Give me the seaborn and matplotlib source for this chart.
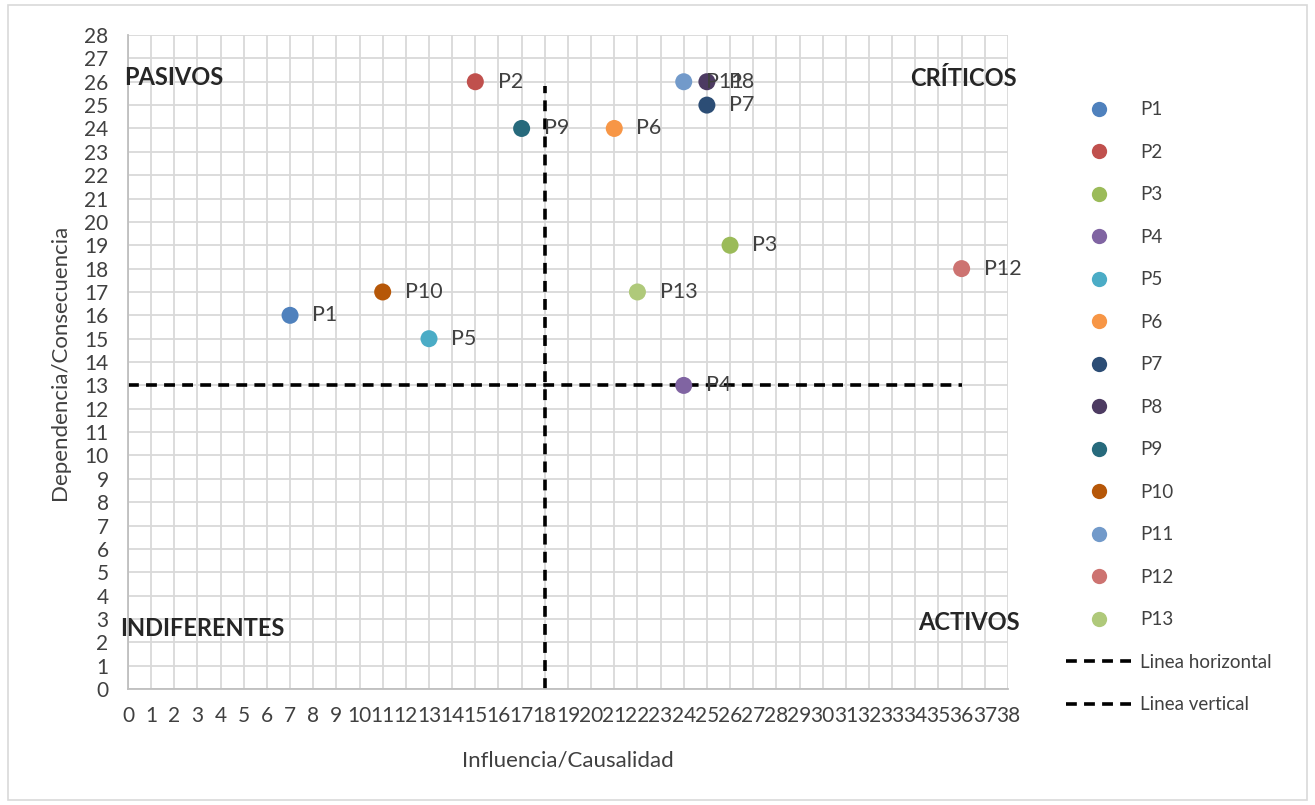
import matplotlib
matplotlib.use("Agg")
import matplotlib.pyplot as plt
import seaborn as sns
import pandas as pd
from matplotlib.lines import Line2D
from matplotlib.patches import Rectangle

# Datos de la matriz de influencia/dependencia
labels = ['P1', 'P2', 'P3', 'P4', 'P5', 'P6', 'P7', 'P8', 'P9', 'P10', 'P11', 'P12', 'P13']
influencia = [7, 15, 26, 24, 13, 21, 25, 25, 17, 11, 24, 36, 22]
dependencia = [16, 26, 19, 13, 15, 24, 25, 26, 24, 17, 26, 18, 17]
colores = ['#4F81BD', '#C0504D', '#9BBB59', '#8064A2', '#4BACC6', '#F79646', '#2C4D75',
           '#4D3B62', '#276A7C', '#B65708', '#729ACA', '#CD7371', '#AFC97A']

linea_h_x = [0, 36]
linea_h_y = [13, 13]
linea_v_x = [18, 18]
linea_v_y = [0, 25.8]

df = pd.DataFrame({'Punto': labels, 'Influencia': influencia, 'Dependencia': dependencia})

sns.set_style("white")
plt.rcParams['font.family'] = ['Lato', 'DejaVu Sans']
txt = '#404040'

fig = plt.figure(figsize=(13.15, 8.05), dpi=100)
ax = fig.add_axes([0.0973, 0.144, 0.6692, 0.8125])
fig.patches.append(Rectangle((0.006, 0.006), 0.988, 0.988, transform=fig.transFigure,
                             fill=False, edgecolor='#D9D9D9', linewidth=1.2))

# lineas divisorias
ax.plot(linea_h_x, linea_h_y, color='black', linestyle=(0, (3, 2)), linewidth=2.6, zorder=2)
ax.plot(linea_v_x, linea_v_y, color='black', linestyle=(0, (3, 2)), linewidth=2.6, zorder=2)

sns.scatterplot(data=df, x='Influencia', y='Dependencia', hue='Punto', palette=colores,
                s=150, edgecolor='none', legend=False, zorder=3, ax=ax)

for lab, x, y in zip(labels, influencia, dependencia):
    ax.annotate(lab, (x, y), xytext=(16, 0), textcoords='offset points', va='center',
                ha='left', fontsize=15.5, color=txt, zorder=4)

ax.set_xlim(0, 38)
ax.set_ylim(0, 28)
ax.set_xticks(range(0, 39))
ax.set_yticks(range(0, 29))
ax.tick_params(axis='both', length=0, labelsize=15, colors=txt)
ax.tick_params(axis='x', pad=12)
ax.tick_params(axis='y', pad=14)
ax.grid(True, color='#D9D9D9', linewidth=1.3)
ax.set_axisbelow(True)
for s in ['top', 'right']:
    ax.spines[s].set_visible(False)
for s in ['left', 'bottom']:
    ax.spines[s].set_color('#BFBFBF')
    ax.spines[s].set_linewidth(1.3)

ax.set_xlabel('Influencia/Causalidad', fontsize=16, color=txt, labelpad=18)
ax.set_ylabel('Dependencia/Consecuencia', fontsize=16, color=txt, labelpad=10)

# cuadrantes
ax.text(-0.15, 26.2, 'PASIVOS', fontsize=17, fontweight='bold', ha='left', va='center')
ax.text(38.4, 26.15, 'CRÍTICOS', fontsize=17, fontweight='bold', ha='right', va='center')
ax.text(-0.35, 2.6, 'INDIFERENTES', fontsize=17, fontweight='bold', ha='left', va='center')
ax.text(38.5, 2.85, 'ACTIVOS', fontsize=17, fontweight='bold', ha='right', va='center')

handles = [Line2D([], [], marker='o', linestyle='none', markersize=11, color=c,
                  markeredgewidth=0) for c in colores]
handles += [Line2D([], [], color='black', linestyle=(0, (3, 2)), linewidth=2.6)] * 2
leg = fig.legend(handles, labels + ['Linea horizontal', 'Linea vertical'],
                 loc='upper left', bbox_to_anchor=(0.798, 0.895), frameon=False,
                 fontsize=13.5, labelspacing=1.36, handlelength=3.5, handletextpad=0.45)
for t in leg.get_texts():
    t.set_color(txt)

fig.savefig('out.png', dpi=100)
